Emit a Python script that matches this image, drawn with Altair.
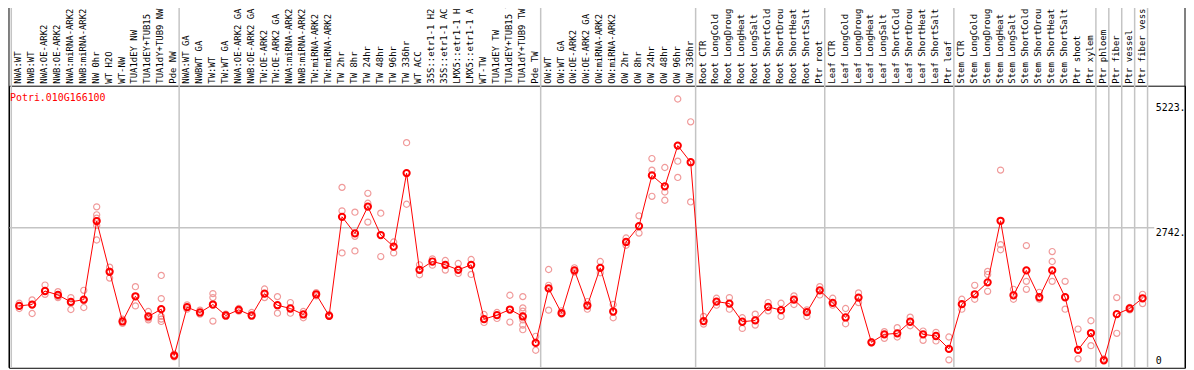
import altair as alt
import pandas as pd

gene = "Potri.010G166100"

categories = [
    "NWA:WT", "NWB:WT", "NWA:OE-ARK2", "NWB:OE-ARK2", "NWA:miRNA-ARK2", "NWB:miRNA-ARK2",
    "NW 0hr", "WT H2O", "WT-NW", "TUA1dEY NW", "TUA1dEY+TUB15 NW", "TUA1dY+TUB9 NW", "Pde NW",
    "NWA:WT GA", "NWBWT GA", "TW:WT", "TW:WT GA", "NWA:OE-ARK2 GA", "NWB:OE-ARK2 GA",
    "TW:OE-ARK2", "TW:OE-ARK2 GA", "NWA:miRNA-ARK2 GA", "NWB:miRNA-ARK2 GA", "TW:miRNA-ARK2",
    "TW:miRNA-ARK2 GA", "TW 2hr", "TW 8hr", "TW 24hr", "TW 48hr", "TW 96hr", "TW 336hr",
    "WT ACC", "35S::etr1-1 H2O", "35S::etr1-1 ACC", "LMX5::etr1-1 H2O", "LMX5::etr1-1 ACC",
    "WT-TW", "TUA1dEY TW", "TUA1dEY+TUB15 TW", "TUA1dY+TUB9 TW", "Pde TW",
    "OW:WT", "OW:WT GA", "OW:OE-ARK2", "OW:OE-ARK2 GA", "OW:miRNA-ARK2", "OW:miRNA-ARK2 GA",
    "OW 2hr", "OW 8hr", "OW 24hr", "OW 48hr", "OW 96hr", "OW 336hr",
    "Root CTR", "Root LongCold", "Root LongDrought", "Root LongHeat", "Root LongSalt",
    "Root ShortCold", "Root ShortDrought", "Root ShortHeat", "Root ShortSalt", "Ptr root",
    "Leaf CTR", "Leaf LongCold", "Leaf LongDrought", "Leaf LongHeat", "Leaf LongSalt",
    "Leaf ShortCold", "Leaf ShortDrought", "Leaf ShortHeat", "Leaf ShortSalt", "Ptr leaf",
    "Stem CTR", "Stem LongCold", "Stem LongDrought", "Stem LongHeat", "Stem LongSalt",
    "Stem ShortCold", "Stem ShortDrought", "Stem ShortHeat", "Stem ShortSalt", "Ptr shoot",
    "Ptr xylem", "Ptr phloem", "Ptr fiber", "Ptr vessel", "Ptr fiber vessel",
]

means = [
    1133, 1161, 1440, 1359, 1215, 1263, 2881, 1836, 812, 1331, 915, 1065, 109,
    1106, 997, 1161, 935, 1051, 935, 1386, 1147, 1079, 956, 1372, 928,
    2970, 2628, 3181, 2594, 2355, 3871, 1877, 2048, 1980, 1877, 1980,
    860, 942, 1058, 915, 369,
    1495, 983, 1864, 1140, 1918, 1017, 2451, 2779, 3823, 3598, 4438, 4096,
    819, 1222, 1181, 806, 833, 1113, 1045, 1263, 1004, 1454,
    1195, 894, 1304, 382, 546, 567, 806, 546, 512, 246,
    1168, 1372, 1618, 2888, 1352, 1864, 1311, 1864, 1311, 225, 573,
    10, 963, 1079, 1290,
]

replicates = [
    [1188, 1133, 1079], [1256, 1161, 976], [1563, 1440, 1372], [1427, 1324, 1304],
    [1304, 1188, 1058], [1454, 1243, 1099], [3175, 3011, 2943, 2792, 2492],
    [1932, 1850, 1707], [860, 812, 771], [1529, 1331, 1133], [1017, 880, 846],
    [1761, 1283, 915, 860, 812], [137, 82],
    [1154, 1065], [1045, 963], [1386, 1304, 819], [963, 915], [1079, 1024], [997, 915],
    [1481, 1304], [1324, 983], [1202, 983], [1017, 888], [1406, 1338], [956, 915],
    [3577, 3093, 2226], [3065, 2567, 2267], [3454, 3250, 2861], [3045, 2150],
    [2451, 2226], [4499, 3229], [1980, 1775], [2103, 1973], [2069, 1871],
    [2007, 1802], [2089, 1782], [956, 792], [997, 874], [1352, 799],
    [1324, 1092, 1024, 928, 846, 737, 642], [505, 218],
    [1884, 1557, 1045], [1031, 963], [1918, 1830], [1222, 1065], [2048, 1816],
    [1161, 888], [2533, 2383], [2990, 2635], [4171, 3932, 3393], [3987, 3482, 3311],
    [5400, 4117, 3782], [4929, 3277],
    [915, 758], [1290, 1147], [1304, 1065], [888, 669], [963, 737], [1202, 1031],
    [1188, 915], [1338, 1161], [1051, 915], [1529, 1359],
    [1290, 1147], [1079, 765], [1400, 1202], [396, 369], [601, 464], [683, 492],
    [901, 724], [614, 423], [587, 410], [492, 20],
    [1270, 1065], [1557, 1270], [1843, 1782, 1434], [3933, 2396, 2290], [1475, 1270],
    [2376, 1639, 1475], [1413, 1270], [2253, 2048, 1639], [1639, 1065], [655, 41],
    [826, 313], [40], [1304, 567], [1100, 1050], [1372, 1181],
]

group_starts = [0, 13, 41, 53, 63, 73, 84, 85, 86, 87, 88]
y_ticks = [0, 2742, 5223]
grid_values = [2742]

PLOT_W = 1184
PLOT_H = 284
FONT = "DejaVu Sans Mono"

df_mean = pd.DataFrame({"idx": list(range(len(categories))), "cat": categories, "value": means})
rep_rows = [(i, v) for i, reps in enumerate(replicates) for v in reps]
df_rep = pd.DataFrame(rep_rows, columns=["idx", "value"])
df_sep = pd.DataFrame({"pos": [g - 0.5 for g in group_starts]})
df_grid = pd.DataFrame({"value": grid_values})
df_title = pd.DataFrame({"t": [gene]})
df_one = pd.DataFrame({"k": [0]})

xs = alt.Scale(domain=[-0.792, 90.285], nice=False, zero=False)
ys = alt.Scale(domain=[-143.4, 5673.7], nice=False, zero=False)

yaxis = alt.Axis(
    orient="right", values=y_ticks, offset=-30, labelAlign="left", labelPadding=0,
    ticks=False, tickSize=0, domain=False, grid=False, title=None,
    labelFont=FONT, labelFontSize=10, labelColor="black",
    labelExpr="datum.value == 0 ? '0' : datum.value + '.'",
    labelBaseline={"condition": {"test": "datum.value == 2742", "value": "top"}, "value": "middle"},
)

X = alt.X("idx:Q", scale=xs, axis=None)
Y = alt.Y("value:Q", scale=ys, axis=yaxis)

sep = alt.Chart(df_sep).mark_rule(color="#c4c4c4", strokeWidth=1.5, xOffset=-1.5).encode(
    x=alt.X("pos:Q", scale=xs, axis=None), y=alt.value(-80), y2=alt.value(PLOT_H)
)
grid = alt.Chart(df_grid).mark_rule(color="#c4c4c4", strokeWidth=1.5).encode(
    y=Y, x=alt.value(-1), x2=alt.value(PLOT_W - 31)
)
left_border = alt.Chart(df_one).mark_rule(color="black", strokeWidth=1).encode(
    x=alt.value(0), y=alt.value(-80), y2=alt.value(PLOT_H)
)
right_border = alt.Chart(df_one).mark_rule(color="black", strokeWidth=1).encode(
    x=alt.value(PLOT_W), y=alt.value(-80), y2=alt.value(PLOT_H)
)
labels = alt.Chart(df_mean).mark_text(
    angle=270, align="left", baseline="middle", font=FONT, fontSize=9, color="black", dy=-1
).encode(x=X, y=alt.value(-2), text="cat:N")

title = alt.Chart(df_title).mark_text(
    align="left", baseline="alphabetic", font=FONT, fontSize=10, color="#ff0000"
).encode(x=alt.value(1), y=alt.value(15), text="t:N")

reps = alt.Chart(df_rep).mark_point(
    shape="circle", filled=False, size=38, color="#f09a9a", strokeWidth=1.2, opacity=1
).encode(x=X, y=Y)
line = alt.Chart(df_mean).mark_line(color="#ff0000", strokeWidth=1).encode(
    x=X, y=Y, order="idx:Q"
)
pts = alt.Chart(df_mean).mark_point(
    shape="circle", filled=False, size=40, color="#ff0000", strokeWidth=2, opacity=1
).encode(x=X, y=Y)

chart = alt.layer(sep, grid, left_border, right_border, labels, title, reps, line, pts).properties(
    width=PLOT_W, height=PLOT_H,
    padding={"left": 1, "top": 77, "right": 1, "bottom": 0},
    autosize=alt.AutoSizeParams(type="none"),
    background="white",
).configure_view(stroke="black", strokeWidth=1)

chart.save("out.html", embed_options={"renderer": "svg", "actions": False})
